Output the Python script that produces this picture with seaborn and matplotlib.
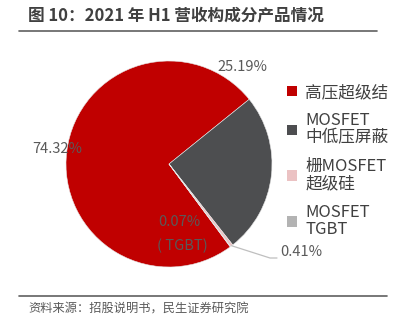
import matplotlib
matplotlib.use("Agg")
import matplotlib.pyplot as plt
from matplotlib.patches import Patch
from matplotlib.lines import Line2D
import numpy as np
import seaborn as sns

# Revenue mix by product, 2021 H1 (%)
categories = ["高压超级结", "MOSFET\n中低压屏蔽", "栅MOSFET\n超级硅", "MOSFET\nTGBT"]
shares = [74.32, 25.19, 0.41, 0.07]
colors = ["#C00000", "#4D4E50", "#EBC2C3", "#B3B3B3"]

title = "图 10：2021 年 H1 营收构成分产品情况"
source = "资料来源：招股说明书，民生证券研究院"

sns.set_style("white")
plt.rcParams["font.family"] = ["Noto Sans CJK SC", "DejaVu Sans"]

W, H = 403, 331
fig = plt.figure(figsize=(W / 100, H / 100), dpi=100)


def fx(px):
    return px / W


def fy(py):
    return 1 - py / H


# pie placement (pixels)
cx, cy, r = 169, 164, 103
ax = fig.add_axes([fx(cx - r), fy(cy + r), 2 * r / W, 2 * r / H])
total = sum(shares)
start = 38.9 + 360 * shares[0] / total
wedges, _ = ax.pie(
    shares,
    colors=colors,
    startangle=start,
    counterclock=False,
    radius=1,
    wedgeprops=dict(edgecolor="#e6e6e6", linewidth=0.4),
)
ax.set_xlim(-1, 1)
ax.set_ylim(-1, 1)
ax.set_axis_off()

label_color = "#595959"
lab_fs = 10.5
fig.text(fx(242), fy(67), "25.19%", ha="center", va="center", fontsize=lab_fs, color=label_color)
fig.text(fx(57), fy(149), "74.32%", ha="center", va="center", fontsize=lab_fs, color=label_color)
fig.text(fx(179), fy(222), "0.07%", ha="center", va="center", fontsize=lab_fs, color=label_color)
fig.text(fx(182), fy(246), "( TGBT)", ha="center", va="center", fontsize=lab_fs, color=label_color)
fig.text(fx(280), fy(252), "0.41%", ha="left", va="center", fontsize=lab_fs, color=label_color)

# leader line for the small slice, starting at its outer edge
w = wedges[2]
mid = np.deg2rad((w.theta1 + w.theta2) / 2)
ex, ey = np.cos(mid), np.sin(mid)
px0, py0 = cx + r * ex, cy - r * ey
fig.add_artist(Line2D([fx(px0), fx(270), fx(277)], [fy(py0), fy(258), fy(258)],
                      color="#BFBFBF", linewidth=0.9))

# legend
handles = [Patch(facecolor=c, edgecolor="none") for c in colors]
leg = fig.legend(
    handles, categories,
    loc="upper left", bbox_to_anchor=(fx(287), fy(84)),
    frameon=False, fontsize=12,
    handlelength=0.6, handleheight=0.6, handletextpad=0.5,
    labelspacing=0.68, borderpad=0, borderaxespad=0,
)
for t in leg.get_texts():
    t.set_color("#404040")
    t.set_linespacing(1.02)

# title and rules
fig.text(fx(28), fy(15), title, ha="left", va="center", fontsize=12,
         fontweight="bold", color="#404040")
fig.add_artist(Line2D([fx(19), fx(377)], [fy(31), fy(31)], color="#606060", linewidth=1.2))
fig.add_artist(Line2D([fx(19), fx(387)], [fy(296), fy(296)], color="#606060", linewidth=1.2))
fig.text(fx(28), fy(309), source, ha="left", va="center", fontsize=8.8, color="#595959")

fig.savefig("out.png", dpi=100)
